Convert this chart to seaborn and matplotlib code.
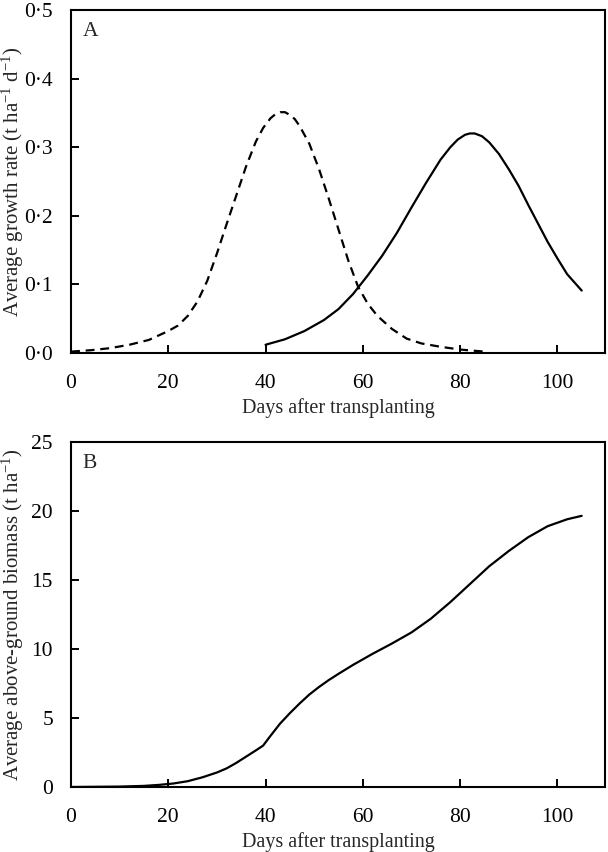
import matplotlib
matplotlib.use("Agg")
import matplotlib.pyplot as plt
import pandas as pd
import seaborn as sns
from matplotlib.ticker import FuncFormatter, MultipleLocator

# panel A: dashed curve (days after transplanting, growth rate t/ha/d)
dash_days = [0, 4, 8, 12, 16, 20, 22, 24, 26, 28, 30, 32, 34, 36, 38, 39.5, 41,
             42, 43, 44, 45, 46, 47, 49, 51, 53, 55, 57, 59, 61, 63, 66, 69, 72,
             76, 80, 85]
dash_rate = [0.002, 0.004, 0.007, 0.012, 0.019, 0.032, 0.040, 0.054, 0.075,
             0.105, 0.145, 0.188, 0.230, 0.272, 0.308, 0.328, 0.342, 0.348,
             0.351, 0.351, 0.347, 0.341, 0.331, 0.305, 0.268, 0.225, 0.180,
             0.135, 0.097, 0.072, 0.054, 0.035, 0.021, 0.014, 0.009, 0.005,
             0.002]

# panel A: solid curve
solid_days = [40, 44, 48, 52, 55, 58, 61, 64, 67, 70, 73, 76, 78, 79.5, 81, 82,
              83, 84.5, 86, 88, 90, 92, 94, 96, 98, 100, 102, 105]
solid_rate = [0.012, 0.020, 0.032, 0.048, 0.064, 0.086, 0.113, 0.142, 0.175,
              0.212, 0.248, 0.282, 0.300, 0.311, 0.318, 0.320, 0.320, 0.316,
              0.307, 0.290, 0.268, 0.244, 0.216, 0.189, 0.162, 0.138, 0.115,
              0.091]

# panel B: biomass (t/ha)
bio_days = [0, 10, 15, 18, 21, 24, 27, 30, 32, 34, 36, 38, 39.5, 41, 43, 45,
            47, 49, 51, 53, 55, 58, 62, 66, 70, 74, 78, 82, 86, 90, 94, 98,
            102, 105]
bio_mass = [0.0, 0.03, 0.08, 0.15, 0.25, 0.42, 0.7, 1.05, 1.35, 1.75, 2.2, 2.65,
            3.0, 3.7, 4.6, 5.35, 6.05, 6.7, 7.25, 7.75, 8.2, 8.85, 9.65, 10.4,
            11.2, 12.2, 13.4, 14.7, 16.0, 17.1, 18.1, 18.9, 19.4, 19.65]

x_ticks = [0, 20, 40, 60, 80, 100]

sns.set_theme(style="ticks")
plt.rcParams["font.family"] = ["Liberation Serif", "DejaVu Serif"]
plt.rcParams["mathtext.fontset"] = "custom"
plt.rcParams["mathtext.rm"] = "Liberation Serif"
plt.rcParams["mathtext.it"] = "Liberation Serif:italic"

TICK_FS = 15.5
XLAB_FS = 14.5
YLAB_FS = 15
LW = 1.6

fig = plt.figure(figsize=(6.08, 8.52), dpi=100)
ax_a = fig.add_axes([0.1168, 0.5857, 0.8783, 0.4026])
ax_b = fig.add_axes([0.1168, 0.0763, 0.8783, 0.4049])

dash_df = pd.DataFrame({"day": dash_days, "rate": dash_rate})
solid_df = pd.DataFrame({"day": solid_days, "rate": solid_rate})
bio_df = pd.DataFrame({"day": bio_days, "mass": bio_mass})

sns.lineplot(data=dash_df, x="day", y="rate", ax=ax_a, color="black",
             linewidth=LW, linestyle=(0, (4, 2.6)), sort=False)
sns.lineplot(data=solid_df, x="day", y="rate", ax=ax_a, color="black",
             linewidth=LW, sort=False)
sns.lineplot(data=bio_df, x="day", y="mass", ax=ax_b, color="black",
             linewidth=LW, sort=False)

ax_a.set_ylim(0, 0.5)
ax_a.yaxis.set_major_locator(MultipleLocator(0.1))
ax_a.yaxis.set_major_formatter(
    FuncFormatter(lambda v, p: f"{v:.1f}".replace(".", "\u00b7")))
ax_a.set_ylabel(r"Average growth rate (t ha$^{-1}$ d$^{-1}$)", fontsize=YLAB_FS)

ax_b.set_ylim(0, 25)
ax_b.yaxis.set_major_locator(MultipleLocator(5))
ax_b.set_ylabel(r"Average above-ground biomass (t ha$^{-1}$)", fontsize=YLAB_FS)

for ax, letter in [(ax_a, "A"), (ax_b, "B")]:
    ax.set_xlim(0, 109.8)
    ax.set_xticks(x_ticks)
    ax.set_xlabel("Days after transplanting", fontsize=XLAB_FS, labelpad=4)
    ax.yaxis.set_label_coords(-0.084, 0.5)
    ax.tick_params(direction="in", length=6, width=1.4, labelsize=TICK_FS,
                   colors="black")
    ax.tick_params(axis="x", pad=15)
    ax.tick_params(axis="y", pad=13)
    for sp in ax.spines.values():
        sp.set_visible(True)
        sp.set_linewidth(1.5)
        sp.set_color("black")
    ax.text(0.022, 0.924, letter, transform=ax.transAxes, fontsize=15.5,
            ha="left", va="baseline")

fig.savefig("out.png", dpi=100)
